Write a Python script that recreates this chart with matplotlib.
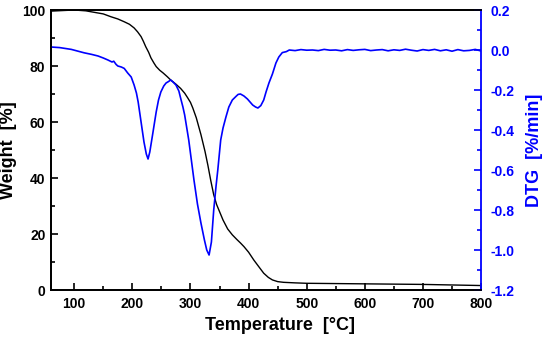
import numpy as np
import matplotlib
matplotlib.use("Agg")
import matplotlib.pyplot as plt
from matplotlib.ticker import MultipleLocator

plt.rcParams['font.family'] = ['Liberation Sans', 'DejaVu Sans']
plt.rcParams['font.weight'] = 'bold'

# TGA curve (weight %)
temp_tga = [60, 100, 120, 150, 163, 175, 186, 195, 203, 209, 215, 219, 223, 228, 232,
            237, 241, 247, 253, 260, 266, 275, 283, 290, 295, 300, 304, 310, 318, 325,
            330, 335, 340, 345, 349, 356, 364, 372, 380, 386, 392, 400, 409, 418, 426,
            434, 441, 450, 460, 480, 500, 600, 700, 800]
weight = [99.6, 100, 99.7, 98.6, 97.6, 96.8, 95.8, 94.9, 93.6, 92.2, 90.5, 88.8, 86.9, 84.9, 82.9,
          81.1, 79.8, 78.5, 77.5, 76.2, 75.0, 73.5, 72.0, 70.3, 68.7, 67.0, 65.0, 61.5, 55.5, 49.5,
          44.5, 39, 34, 30.5, 28.5, 25.0, 21.8, 19.7, 18.0, 16.8, 15.5, 13.5, 10.7, 8.2, 6.0,
          4.5, 3.6, 3.0, 2.75, 2.55, 2.4, 2.2, 2.0, 1.6]

# DTG curve (%/min)
temp_dtg = [60, 75, 95, 117, 130, 141, 150, 158, 165, 168, 172, 175, 181, 186, 192, 198,
            203, 207, 210, 215, 220, 224, 227, 230, 235, 241, 245, 249, 254, 258, 262,
            266, 270, 275, 280, 283, 287, 290, 297, 306, 312, 318, 324, 328, 332, 336,
            340, 344, 347, 352, 356, 361, 366, 372, 379, 382, 386, 392, 398, 407, 412,
            416, 421, 426, 430, 435, 441, 447, 452, 458, 465, 470, 480, 490, 500, 510,
            520, 530, 540, 550, 560, 570, 580, 590, 600, 610, 620, 630, 640, 650, 660,
            670, 680, 690, 700, 710, 720, 730, 740, 750, 760, 770, 780, 790, 800]
dtg = [0.015, 0.012, 0.003, -0.014, -0.022, -0.03, -0.04, -0.05, -0.06, -0.056, -0.072, -0.08,
       -0.085, -0.092, -0.115, -0.135, -0.175, -0.215, -0.26, -0.36, -0.46, -0.52, -0.545,
       -0.51, -0.42, -0.31, -0.25, -0.21, -0.18, -0.165, -0.158, -0.15, -0.16, -0.175,
       -0.205, -0.24, -0.285, -0.325, -0.45, -0.65, -0.77, -0.865, -0.95, -1.0, -1.025,
       -0.96, -0.8, -0.68, -0.6, -0.45, -0.39, -0.335, -0.285, -0.25, -0.23, -0.222, -0.22,
       -0.23, -0.245, -0.275, -0.285, -0.29, -0.278, -0.25, -0.21, -0.165, -0.12, -0.065,
       -0.035, -0.013, -0.008, 0.0, -0.003, 0.002, -0.001, 0.0, -0.003, 0.003, -0.001, 0.0,
       -0.004, 0.002, -0.002, 0.001, 0.003, -0.003, 0.0, 0.002, -0.004, 0.001, -0.002,
       0.004, -0.001, -0.005, 0.002, -0.002, 0.003, -0.004, 0.001, -0.006, 0.002, -0.004,
       -0.002, 0.003, -0.005]

fig = plt.figure(figsize=(5.5, 3.39), dpi=100)
ax = fig.add_axes([0.0927, 0.1445, 0.782, 0.826])
ax2 = ax.twinx()

ax.plot(temp_tga, weight, color='black', lw=1.0)
ax2.plot(temp_dtg, dtg, color='blue', lw=1.2)

ax.set_xlim(60, 800)
ax.set_ylim(0, 100)
ax2.set_ylim(-1.2, 0.2)

ax.xaxis.set_major_locator(MultipleLocator(100))
ax.xaxis.set_minor_locator(MultipleLocator(50))
ax.yaxis.set_major_locator(MultipleLocator(20))
ax.yaxis.set_minor_locator(MultipleLocator(10))
ax2.yaxis.set_major_locator(MultipleLocator(0.2))
ax2.yaxis.set_minor_locator(MultipleLocator(0.1))

ax.tick_params(which='both', direction='in', width=1.2, labelsize=10, pad=4)
ax.tick_params(axis='x', pad=5)
ax.tick_params(which='major', length=5)
ax.tick_params(which='minor', length=3)
ax.tick_params(axis='y', right=False)
ax2.tick_params(which='both', direction='in', width=1.2, labelsize=10, pad=7,
                colors='blue')
ax2.tick_params(which='major', length=5)
ax2.tick_params(which='minor', length=3)

ax2.yaxis.set_major_formatter(plt.FuncFormatter(lambda v, p: f"{v:.1f}"))

for s in ['left', 'bottom', 'top']:
    ax.spines[s].set_linewidth(1.3)
    ax2.spines[s].set_linewidth(1.3)
ax2.spines['right'].set_color('blue')
ax2.spines['right'].set_linewidth(1.3)
ax.spines['right'].set_visible(False)

ax.set_xlabel('Temperature  [°C]', fontsize=13, fontweight='bold', labelpad=4)
ax.xaxis.label.set_x(0.533)
ax.set_ylabel('Weight  [%]', fontsize=13, fontweight='bold', labelpad=4)
ax2.set_ylabel('DTG  [%/min]', fontsize=13, fontweight='bold', color='blue', labelpad=8)

fig.savefig('out.png', dpi=100)
